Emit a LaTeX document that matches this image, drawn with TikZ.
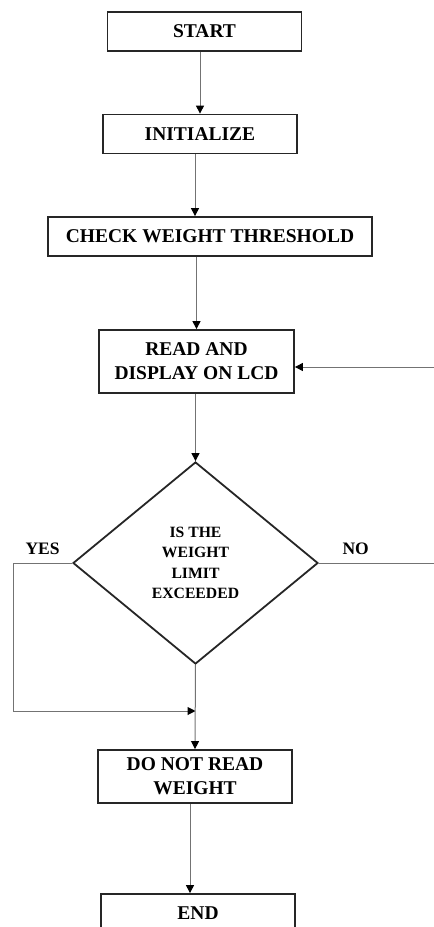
\documentclass[tikz,border=0pt]{standalone}
\usepackage{fontspec}
\setmainfont{Liberation Serif}
\usetikzlibrary{shapes.geometric,arrows.meta}

\tikzset{
  box/.style={draw=black!85, line width=1.8pt, minimum width=#1, minimum height=39pt,
    inner sep=0pt, align=center, font=\bfseries\fontsize{19.5}{24}\selectfont},
  box/.default=194pt,
  line/.style={draw=black!55, line width=1pt},
  tip/.style={line, -{Triangle[length=8pt,width=8pt,color=black]}},
  lbl/.style={font=\bfseries\fontsize{17.5}{20}\selectfont},
}

\begin{document}
\begin{tikzpicture}[x=1pt,y=-1pt]
    \path[use as bounding box, clip] (0,0) rectangle (434,927);
    \node[box] (start) at (204.5,31.5) {START};
    \node[box] (init) at (200,134) {INITIALIZE};
    \node[box=324pt] (check) at (210,236.5) {CHECK WEIGHT THRESHOLD};
    \node[box=195pt, minimum height=63pt] (read) at (196.5,361.5) {READ AND\\DISPLAY ON LCD};
    \node[draw=black!85, line width=1.8pt, diamond, minimum width=245pt, minimum height=202pt,
      inner sep=0pt, align=center, font=\bfseries\fontsize{15.7}{20.5}\selectfont] (limit)
      at (195.5,563) {IS THE\\WEIGHT\\LIMIT\\EXCEEDED};
    \node[box, minimum height=53pt] (stop) at (195,776.5) {DO NOT READ\\WEIGHT};
    \node[box] (finish) at (198,913.5) {END};
    \coordinate (join) at (195.5,711);
    \coordinate (noout) at (434,563);
    \coordinate (noin) at (434,367);
    \draw[tip] (init.north |- start.south) -- (init.north);
    \draw[tip] ([xshift=-5pt]init.south) -- ([xshift=-5pt]init.south |- check.north);
    \draw[tip] (read.north |- check.south) -- (read.north);
    \draw[tip] (limit.north |- read.south) -- (limit.north);
    \draw[tip] (limit.west) -- node[lbl, above=5pt] {YES} ++(-59,0) |- (join);
    \draw[tip] (limit.south) -- (stop.north);
    \draw[line] (limit.east) -- node[lbl, above=5pt, pos=0.32] {NO} (noout);
    \draw[tip] (noin) -- (read.east |- noin);
    \draw[tip] ([xshift=-5pt]stop.south) -- ([xshift=-5pt]stop.south |- finish.north);
  \end{tikzpicture}
\end{document}
